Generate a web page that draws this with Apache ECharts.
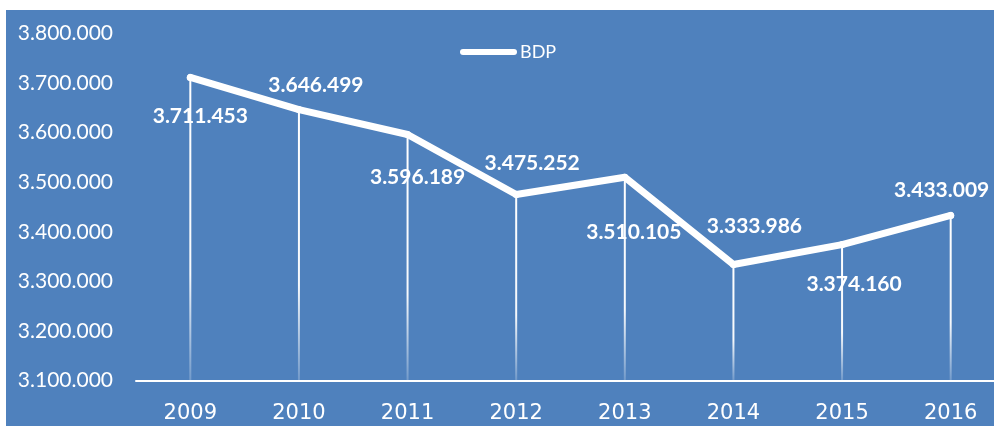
<!DOCTYPE html>
<html>
<head>
<meta charset="utf-8">
<script src="https://cdn.jsdelivr.net/npm/echarts@6/dist/echarts.min.js"></script>
<style>
html,body{margin:0;padding:0;background:#fff;}
#chart{width:994px;height:426px;}
</style>
</head>
<body>
<div id="chart"></div>
<script>
const years = ['2009','2010','2011','2012','2013','2014','2015','2016'];
const bdp = [3711453, 3646499, 3596189, 3475252, 3510105, 3333986, 3374160, 3433009];
const labelOffsets = [[10,39],[17,-24],[10,43],[16,-31],[9,55],[21,-38],[12,40],[-9,-25]];
const yMin = 3100000, yMax = 3800000, yStep = 100000;

function fmt(v){ return String(v).replace(/\B(?=(\d{3})+(?!\d))/g, '.'); }

const chart = echarts.init(document.getElementById('chart'));
chart.setOption({
  backgroundColor: '#ffffff',
  animation: false,
  graphic: [{
    type: 'rect', z: -10, silent: true,
    shape: {x: 6, y: 10, width: 988, height: 416},
    style: {fill: '#4F81BD'}
  }],
  legend: {
    data: ['BDP'],
    left: 455, top: 38,
    itemWidth: 51, itemHeight: 6,
    lineStyle: {width: 6, cap: 'round', color: '#ffffff'},
    itemStyle: {color: '#ffffff', opacity: 0},
    textStyle: {color: '#ffffff', fontSize: 18, fontFamily: 'Lato', padding: [0,0,0,1]}
  },
  grid: {left: 136, top: 33.5, right: -11, bottom: 45.5, containLabel: false, outerBoundsMode: 'none'},
  xAxis: {
    type: 'category',
    data: years,
    boundaryGap: true,
    axisLine: {show: true, lineStyle: {color: '#ffffff', width: 2}},
    axisTick: {show: false},
    axisLabel: {color: '#ffffff', fontSize: 21, fontFamily: 'DejaVu Sans', margin: 23}
  },
  yAxis: {
    type: 'value',
    min: yMin, max: yMax, interval: yStep,
    axisLine: {show: false},
    axisTick: {show: false},
    splitLine: {show: false},
    axisLabel: {color: '#ffffff', fontSize: 21, fontFamily: 'Lato', margin: 23, formatter: fmt}
  },
  series: [
    {
      type: 'custom',
      z: 1,
      silent: true,
      data: bdp.map((v, i) => [i, v]),
      encode: {x: 0, y: 1},
      renderItem: function (params, api) {
        const top = api.coord([api.value(0), api.value(1)]);
        const bottom = api.coord([api.value(0), yMin]);
        return {
          type: 'line',
          shape: {x1: top[0], y1: top[1], x2: bottom[0], y2: bottom[1]},
          style: {
            stroke: new echarts.graphic.LinearGradient(0, top[1], 0, bottom[1], [
              {offset: 0, color: 'rgba(255,255,255,1)'},
              {offset: 0.65, color: 'rgba(255,255,255,0.95)'},
              {offset: 1, color: 'rgba(255,255,255,0.2)'}
            ], true),
            lineWidth: 2
          }
        };
      }
    },
    {
      name: 'BDP',
      type: 'line',
      z: 3,
      data: bdp.map((v, i) => ({
        value: v,
        label: {offset: labelOffsets[i]}
      })),
      symbol: 'circle',
      symbolSize: 7,
      itemStyle: {color: '#ffffff'},
      lineStyle: {color: '#ffffff', width: 7, cap: 'round', join: 'round'},
      label: {
        show: true,
        position: 'inside',
        color: '#ffffff',
        fontSize: 21,
        fontWeight: 'bold',
        fontFamily: 'Lato',
        formatter: p => fmt(p.value)
      }
    }
  ]
});
</script>
</body>
</html>
